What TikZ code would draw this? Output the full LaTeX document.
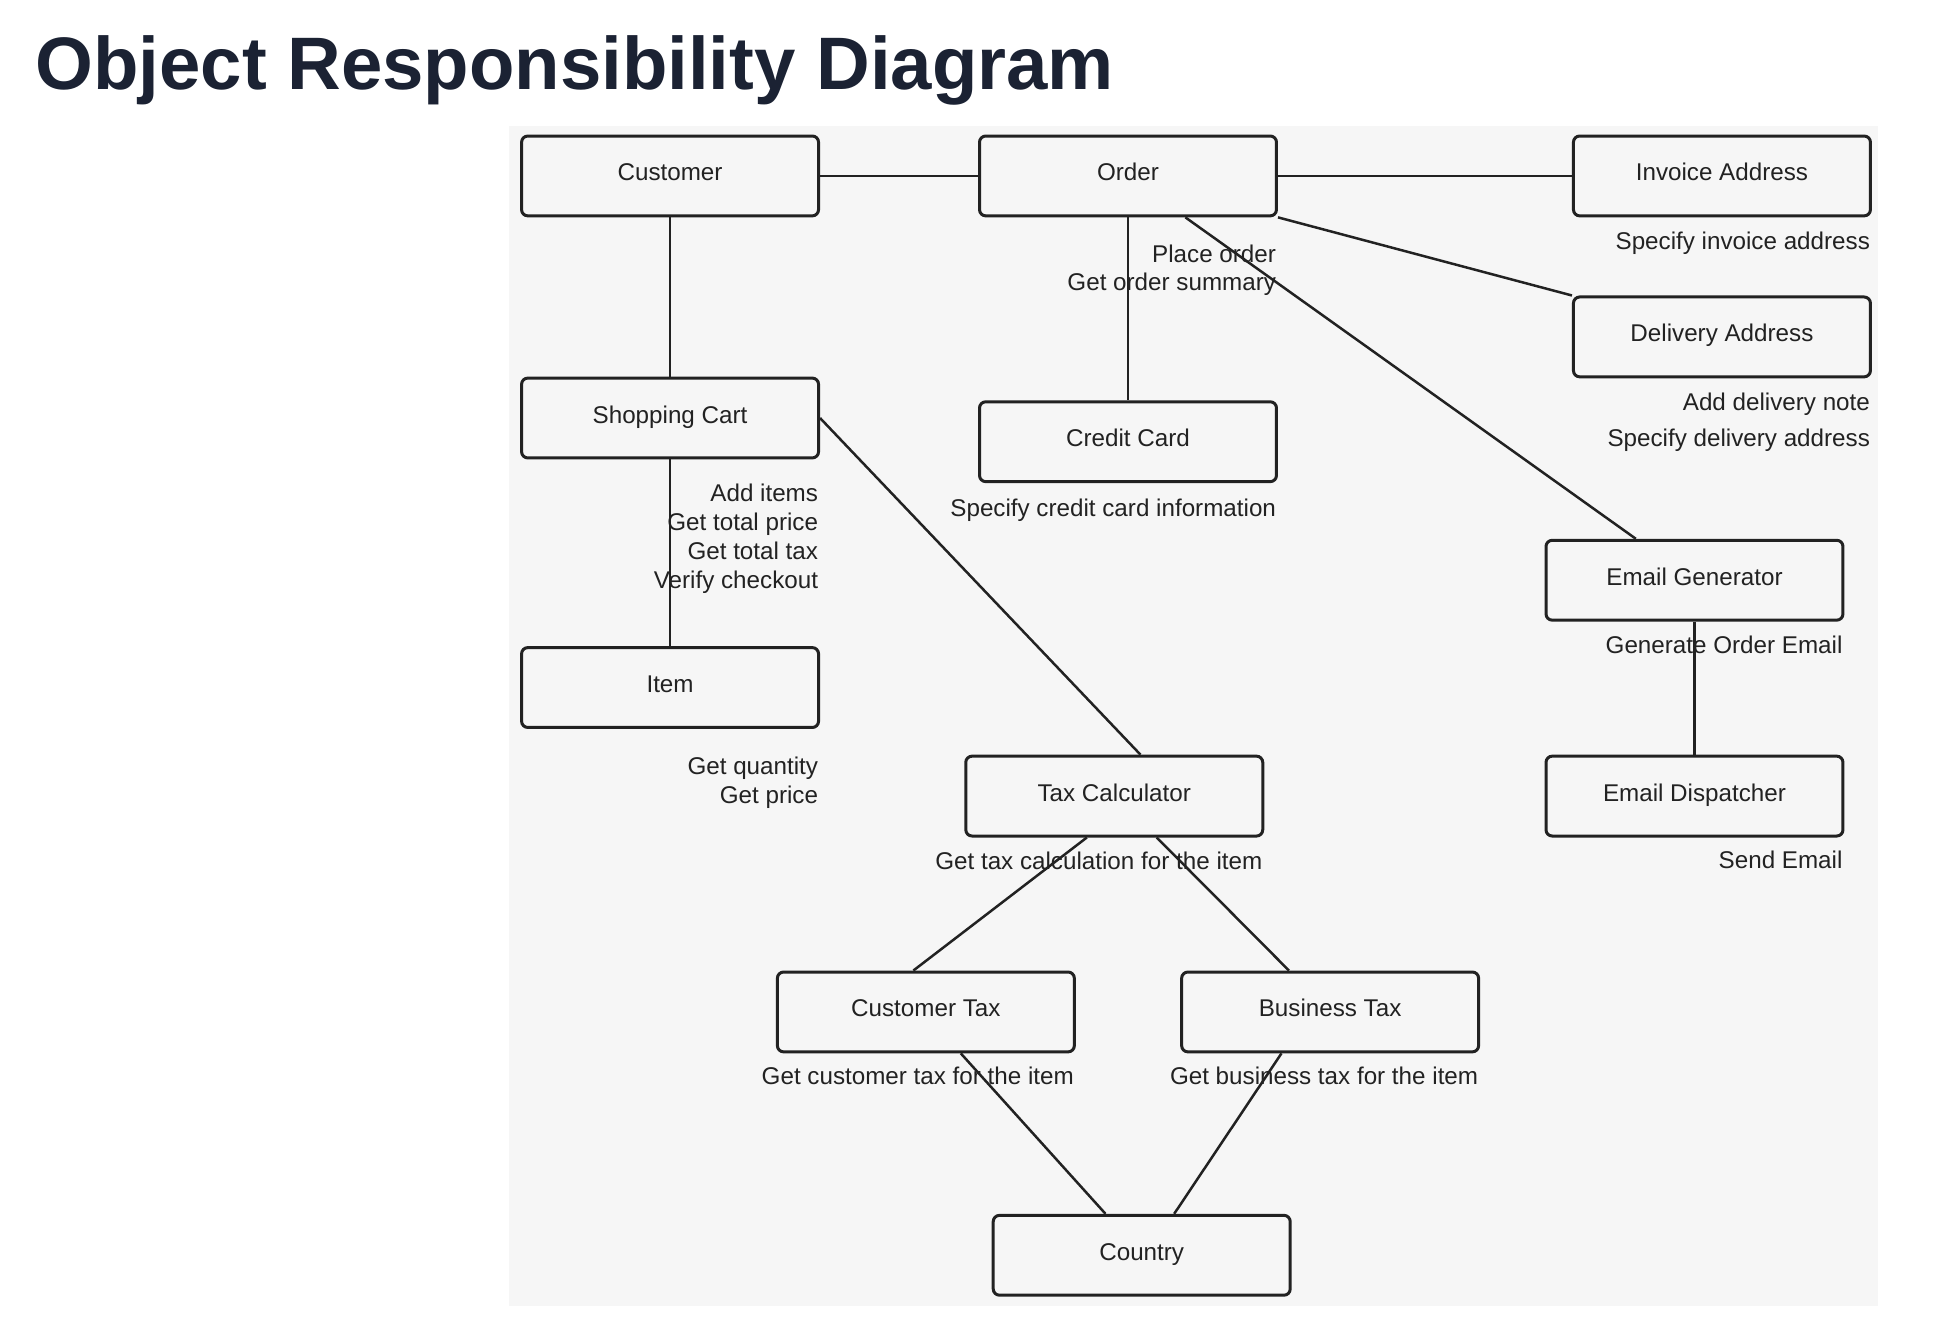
\documentclass[tikz,border=0pt]{standalone}
\usepackage{fontspec}
\setmainfont{Liberation Sans}
\definecolor{panel}{HTML}{F6F6F6}
\definecolor{ink}{HTML}{222222}
\definecolor{titleink}{HTML}{1B2233}

\begin{document}
\begin{tikzpicture}[x=0.5pt,y=-0.5pt,
  box/.style={draw=ink,line width=1.2pt,rounded corners=2.5pt,fill=panel,
    minimum width=119pt,minimum height=32pt,inner sep=0pt,text=ink,
    text height=7pt,text depth=3pt,
    font=\fontsize{9.7}{11.5}\selectfont},
  note/.style={anchor=base east,inner sep=0pt,text=ink,
    font=\fontsize{9.7}{11.5}\selectfont},
  link/.style={draw=ink,line width=1pt}]
\useasboundingbox (0,0) rectangle (1566,1072.4);
\fill[panel] (408,101) rectangle (1505,1047);
\node[anchor=base west,inner sep=0pt,text=titleink,
  font=\fontsize{29.8}{36}\selectfont\bfseries] (title) at (28,72) {Object Responsibility Diagram};
% objects
\foreach \n/\x/\y/\t in {customer/537/141/Customer, order/904/141/Order,
    invoice/1380/141/Invoice Address, delivery/1380/270/Delivery Address,
    cart/537/335/Shopping Cart, card/904/354/Credit Card,
    emailgen/1358/465/Email Generator, item/537/551/Item,
    taxcalc/893/638/Tax Calculator, dispatch/1358/638/Email Dispatcher,
    custtax/742/811/Customer Tax, bustax/1066/811/Business Tax,
    country/915/1006/Country}
  \node[box] (\n) at (\x,\y) {\t};
% responsibilities
\foreach \n/\x/\y/\t in {ordnote1/1023/210/Place order, ordnote2/1023/233/Get order summary,
    invnote/1499/200/Specify invoice address,
    delnote1/1499/329/Add delivery note, delnote2/1499/358/Specify delivery address,
    cardnote/1023/414/Specify credit card information,
    gennote/1477/524/Generate Order Email,
    itemnote1/656/621/Get quantity, itemnote2/656/644/Get price,
    taxnote/1012/697/Get tax calculation for the item,
    sendnote/1477/696/Send Email,
    ctaxnote/861/869/Get customer tax for the item,
    btaxnote/1185/869/Get business tax for the item}
  \node[note] (\n) at (\x,\y) {\t};
\foreach \t [count=\i from 0] in {Add items,Get total price,Get total tax,Verify checkout}
  \node[note] (cartnote\i) at (656,402+23.3*\i) {\t};
% links
\draw[link] (customer.east) -- (order.west);
\draw[link] (order.east) -- (invoice.west);
\draw[link] (customer.south) -- (cart.north);
\draw[link] (order.south) -- (card.north);
\draw[link] (order.south east) -- (delivery.north west);
\draw[link] ([xshift=23pt]order.south) -- ([xshift=-23.5pt]emailgen.north);
\draw[link] (cart.south) -- (item.north);
\draw[link] (cart.east) -- ([xshift=10.5pt]taxcalc.north);
\draw[link] (emailgen.south) -- (dispatch.north);
\draw[link] ([xshift=-11pt]taxcalc.south) -- ([xshift=-5pt]custtax.north);
\draw[link] ([xshift=17pt]taxcalc.south) -- ([xshift=-16.5pt]bustax.north);
\draw[link] ([xshift=14pt]custtax.south) -- ([xshift=-14.5pt]country.north);
\draw[link] ([xshift=-19.5pt]bustax.south) -- ([xshift=13pt]country.north);
\end{tikzpicture}
\end{document}
